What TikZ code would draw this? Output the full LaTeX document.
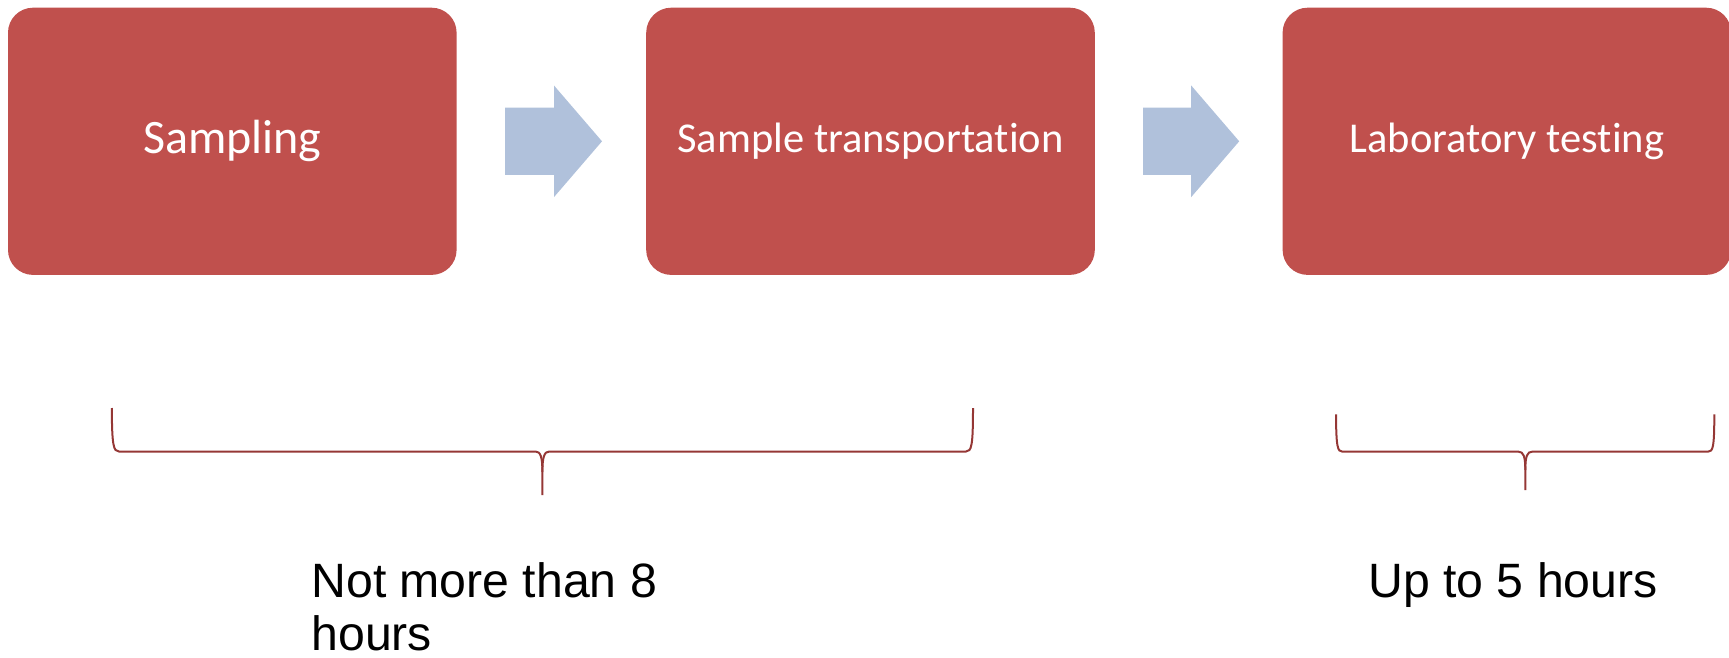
\documentclass[tikz,border=0pt]{standalone}
\usepackage{fontspec}
\setmainfont{Carlito}[Ligatures=NoCommon]
\newfontfamily\arialfont{Liberation Sans}
\usepackage{tikz}
\usetikzlibrary{positioning,calc}
\definecolor{boxred}{RGB}{192, 80, 77}
\definecolor{arrowblue}{RGB}{176, 193, 219}
\definecolor{bracered}{RGB}{149, 55, 53}

\begin{document}
\begin{tikzpicture}[x=.5pt,y=-.5pt,
    stage/.style={fill=boxred,rounded corners=12.5pt,minimum width=224.3pt,minimum height=133.6pt,
        inner sep=0pt,text=white,font=\fontsize{24}{28}\selectfont},
    smalltext/.style={font=\fontsize{21.25}{25}\selectfont},
    flowarrow/.style={fill=arrowblue},
    span/.style={draw=bracered,line width=1pt},
    note/.style={inner sep=0pt,align=left,font=\arialfont\fontsize{24.1}{26.75}\selectfont}]
        \useasboundingbox (0,0) rectangle (1729,658);

        % Stages
        \node[stage] (sampling) at (232.3,141.3) {Sampling};
        \node[stage,smalltext,right=94.4pt of sampling] (transport) {Sample transportation};
        \node[stage,smalltext,right=93.5pt of transport] (labtest) {Laboratory testing};

        % Arrows
        \fill[flowarrow] ($(sampling.east)+(48,-33.6)$) -- ++(49,0) -- ++(0,-22.2) -- ++(48,55.8)
            -- ++(-48,55.8) -- ++(0,-22.2) -- ++(-49,0) -- cycle;
        \fill[flowarrow] ($(transport.east)+(48,-33.6)$) -- ++(48,0) -- ++(0,-22.2) -- ++(48,55.8)
            -- ++(-48,55.8) -- ++(0,-22.2) -- ++(-48,0) -- cycle;

        % Braces
        \draw[span] (111.8,408) .. controls (112,446) and (113.5,451.5) .. (119,451.5) -- (535.5,451.5)
            .. controls (540.5,451.5) and (542.4,457) .. (542.4,472) -- (542.4,495);
        \draw[span] (542.4,472) .. controls (542.4,457) and (544.3,451.5) .. (549.3,451.5) -- (966,451.5)
            .. controls (971.5,451.5) and (973,446) .. (973,408);
        \draw[span] (1336,414.3) .. controls (1336.2,447) and (1337.5,451.7) .. (1342.5,451.7) -- (1518.5,451.7)
            .. controls (1523.3,451.7) and (1525.3,456) .. (1525.3,470) -- (1525.3,490);
        \draw[span] (1525.3,470) .. controls (1525.3,456) and (1527.3,451.7) .. (1532.1,451.7) -- (1708,451.7)
            .. controls (1713,451.7) and (1714.3,447) .. (1714.3,414.3);

        % Durations
        \node[note,anchor=base west] (eighthours) at (311,650.7) {Not more than 8\\hours};
        \node[note,anchor=base west] (fivehours) at (1368,597.2) {Up to 5 hours};
    \end{tikzpicture}
\end{document}
